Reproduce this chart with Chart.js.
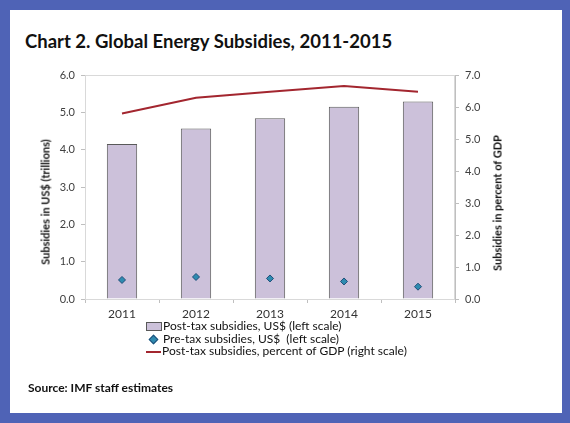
<!DOCTYPE html>
<html>
<head>
<meta charset="utf-8">
<script src="https://cdn.jsdelivr.net/npm/chart.js@4"></script>
<style>
  html, body { margin: 0; padding: 0; }
  body { width: 570px; height: 423px; background: #4f63b6; position: relative; overflow: hidden; font-family: Lato, "Open Sans", sans-serif; }
  #panel { position: absolute; left: 10px; top: 10px; width: 552px; height: 403px; background: #fff; }
  #wrap { position: absolute; left: 0; top: 0; width: 570px; height: 423px; }
  #title { position: absolute; left: 25px; top: 30px; font-size: 18.5px; font-weight: bold; color: #111; white-space: nowrap; }
  .ytitle { position: absolute; font-size: 11px; font-weight: bold; color: #111; white-space: nowrap; transform: translate(-50%, -50%) rotate(-90deg); }
  #legend { position: absolute; left: 146px; top: 320px; font-size: 12px; color: #111; }
  #legend div { white-space: nowrap; height: 12.5px; line-height: 12.5px; }
  .sw { display: inline-block; width: 15px; vertical-align: middle; margin-right: 1px; }
  .box { height: 7px; background: #ccc1da; border: 1px solid #595959; width: 14px; }
  .dia { width: 5px; height: 5px; background: #2e8bb0; border: 1px solid #1f4e79; transform: rotate(45deg); margin: 0 6px 0 4px; }
  .ln { height: 2px; background: #a3262f; }
  #source { position: absolute; left: 28px; top: 380px; font-size: 12px; font-weight: bold; color: #111; }
</style>
</head>
<body>
<div id="panel"></div>
<div id="title">Chart 2. Global Energy Subsidies, 2011-2015</div>
<div id="wrap"><canvas id="chart" width="570" height="423"></canvas></div>
<div class="ytitle" style="left:45px; top:202px;">Subsidies in US$ (trillions)</div>
<div class="ytitle" style="left:497px; top:203px;">Subsidies in percent of GDP</div>
<div id="legend">
  <div><span class="sw box"></span>Post-tax subsidies, US$ (left scale)</div>
  <div><span class="sw dia"></span>Pre-tax subsidies, US$&nbsp; (left scale)</div>
  <div><span class="sw ln"></span>Post-tax subsidies, percent of GDP (right scale)</div>
</div>
<div id="source">Source: IMF staff estimates</div>
<script>
// Chart data
const years = ['2011', '2012', '2013', '2014', '2015'];
const postTaxUSD = [4.15, 4.57, 4.84, 5.15, 5.29];
const preTaxUSD = [0.51, 0.59, 0.55, 0.47, 0.33];
const postTaxGDP = [5.8, 6.29, 6.48, 6.66, 6.48];

// light gray box round the plot area
const plotBox = {
  id: 'plotBox',
  beforeDatasetsDraw(chart) {
    const { ctx, chartArea: a } = chart;
    ctx.save();
    ctx.strokeStyle = '#d9d9d9';
    ctx.lineWidth = 1;
    ctx.strokeRect(a.left + 0.5, a.top + 0.5, a.right - a.left - 1, a.bottom - a.top);
    ctx.restore();
  }
};

const tickFont = { family: 'Lato', size: 11 };

new Chart(document.getElementById('chart').getContext('2d'), {
  data: {
    labels: years,
    datasets: [
      {
        type: 'line',
        label: 'Post-tax subsidies, percent of GDP (right scale)',
        data: postTaxGDP,
        yAxisID: 'y2',
        borderColor: '#a3262f',
        borderWidth: 2,
        pointRadius: 0,
        tension: 0,
        order: 1
      },
      {
        type: 'line',
        label: 'Pre-tax subsidies, US$ (left scale)',
        data: preTaxUSD,
        yAxisID: 'y',
        showLine: false,
        pointStyle: 'rectRot',
        pointRadius: 3.5,
        pointBackgroundColor: '#2e8bb0',
        pointBorderColor: '#1f4e79',
        pointBorderWidth: 1,
        order: 0
      },
      {
        type: 'bar',
        label: 'Post-tax subsidies, US$ (left scale)',
        data: postTaxUSD,
        yAxisID: 'y',
        backgroundColor: '#ccc1da',
        borderColor: '#595959',
        borderWidth: 1,
        categoryPercentage: 1,
        barPercentage: 0.41,
        order: 2
      }
    ]
  },
  options: {
    responsive: false,
    animation: false,
    layout: { padding: { left: 34, right: 62, top: 75, bottom: 94 } },
    plugins: { legend: { display: false }, tooltip: { enabled: false } },
    scales: {
      x: {
        grid: { display: true, drawOnChartArea: false, offset: true, tickLength: 4, color: '#bfbfbf' },
        border: { color: '#bfbfbf' },
        ticks: { font: { family: 'Lato', size: 12 }, color: '#333', padding: 4 },
        afterFit(s) { s.height = 30; }
      },
      y: {
        position: 'left',
        min: 0, max: 6,
        ticks: { stepSize: 1, font: tickFont, color: '#404040', padding: 6, callback: v => v.toFixed(1) },
        grid: { drawOnChartArea: false, tickLength: 4, color: '#bfbfbf' },
        border: { color: '#bfbfbf' },
        afterFit(s) { s.width = 51; }
      },
      y2: {
        position: 'right',
        min: 0, max: 7,
        ticks: { stepSize: 1, font: tickFont, color: '#404040', padding: 6, callback: v => v.toFixed(1) },
        grid: { drawOnChartArea: false, tickLength: 4, color: '#bfbfbf' },
        border: { color: '#bfbfbf' },
        afterFit(s) { s.width = 53; }
      }
    }
  },
  plugins: [plotBox]
});
</script>
</body>
</html>
